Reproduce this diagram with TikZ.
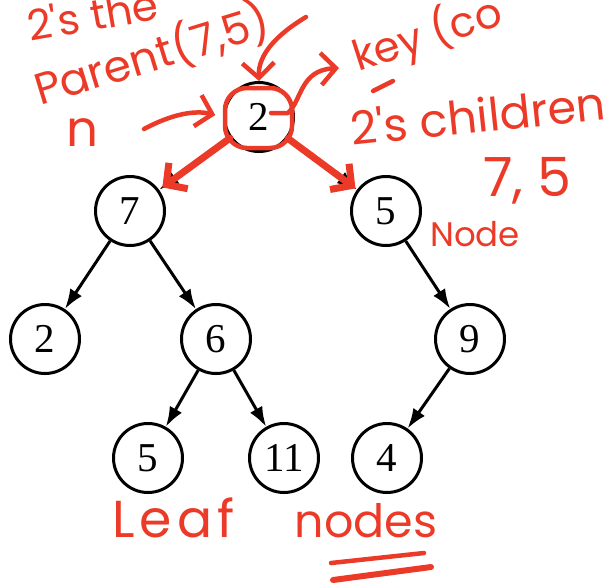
\documentclass[tikz,border=0pt]{standalone}
\usepackage{xcolor}
\usepackage{fontspec}
\setmainfont{Liberation Serif}
\newfontfamily\handfont{Poppins}
\usepackage{tikz}
\usetikzlibrary{shapes,arrows.meta}
\definecolor{marker}{RGB}{236,58,40}
\tikzset{
  vtx/.style={circle,draw,line width=3pt,minimum size=69pt,inner sep=0pt,font=\fontsize{41}{41}\selectfont},
  link/.style={line width=3pt,-{Latex[length=20pt,width=14pt]}},
  ink/.style={draw=marker,line width=4.5pt,line cap=round,line join=round},
  inkarrow/.style={ink,-{Straight Barb[length=15pt,width=32pt]}},
  hand/.style={text=marker,inner sep=0pt,font={\handfont\fontsize{#1}{#1}\selectfont}},
  hand/.default=40
}

\begin{document}
\begin{tikzpicture}[x=1pt,y=-1pt]
\useasboundingbox (0,0) rectangle (604,582);

\node[vtx] (v1) at (259,117) {2};
\node[vtx] (v2) at (130,211) {7};
\node[vtx] (v3) at (386,211) {5};
\node[vtx] (v4) at (45,339) {2};
\node[vtx] (v5) at (216,339) {6};
\node[vtx] (v6) at (470,339) {9};
\node[vtx] (v7) at (148,458) {5};
\node[vtx] (v8) at (284,458) {11};
\node[vtx] (v9) at (387,458) {4};

\foreach \a/\b in {1/2,1/3,2/4,2/5,3/6,5/7,5/8,6/9}
    \draw (v\a) edge[link] (v\b);

% red notes
\draw[ink,rounded corners=22pt] (225,88) rectangle (292,148);
\draw[inkarrow,line width=7pt,shorten >=4pt] (v1) -- (v2);
\draw[inkarrow,line width=7pt,shorten >=2pt] (v1) -- (v3);

\node[hand=42,rotate=10,anchor=base west] (t1) at (30,42) {2's the};
\node[hand=44,rotate=17,anchor=base west] (t2) at (40,106) {Parent(7,5)};
\node[hand=50,anchor=base west] (n) at (66,146) {n};
\node[hand=42,rotate=18,anchor=base west] (key) at (358,72) {key (co};
\node[hand=46,rotate=6,anchor=base west] (kids) at (352,146) {2's children};
\node[hand=54,anchor=base west] (kidval) at (483,196) {7, 5};
\node[hand=34,anchor=base west] (lbl) at (430,246) {Node};
\node[hand=46,anchor=base west] (leaf) at (112,537) {{\fontsize{52}{52}\selectfont\addfontfeature{LetterSpace=10}Leaf}\hspace{60pt}nodes};

\coordinate (topstart) at (306,17);
\coordinate (nstart) at (144,129);
\coordinate (keystart) at (271,113);
\coordinate (keyend) at (339,68);
\draw[inkarrow] (topstart) .. controls (276,35) and (258,55) .. (v1.north);
\draw[inkarrow,shorten >=8pt] (nstart) .. controls (172,114) and (195,110) .. (v1.west);
\draw[inkarrow] (keystart) -- (288,113) .. controls (302,100) and (300,70) .. (keyend);
\draw[ink] (373,91) -- (393,81);
\draw[ink] (331,563) -- (424,553);
\draw[ink,line width=6pt] (333,580) -- (431,567);

\end{tikzpicture}
\end{document}
